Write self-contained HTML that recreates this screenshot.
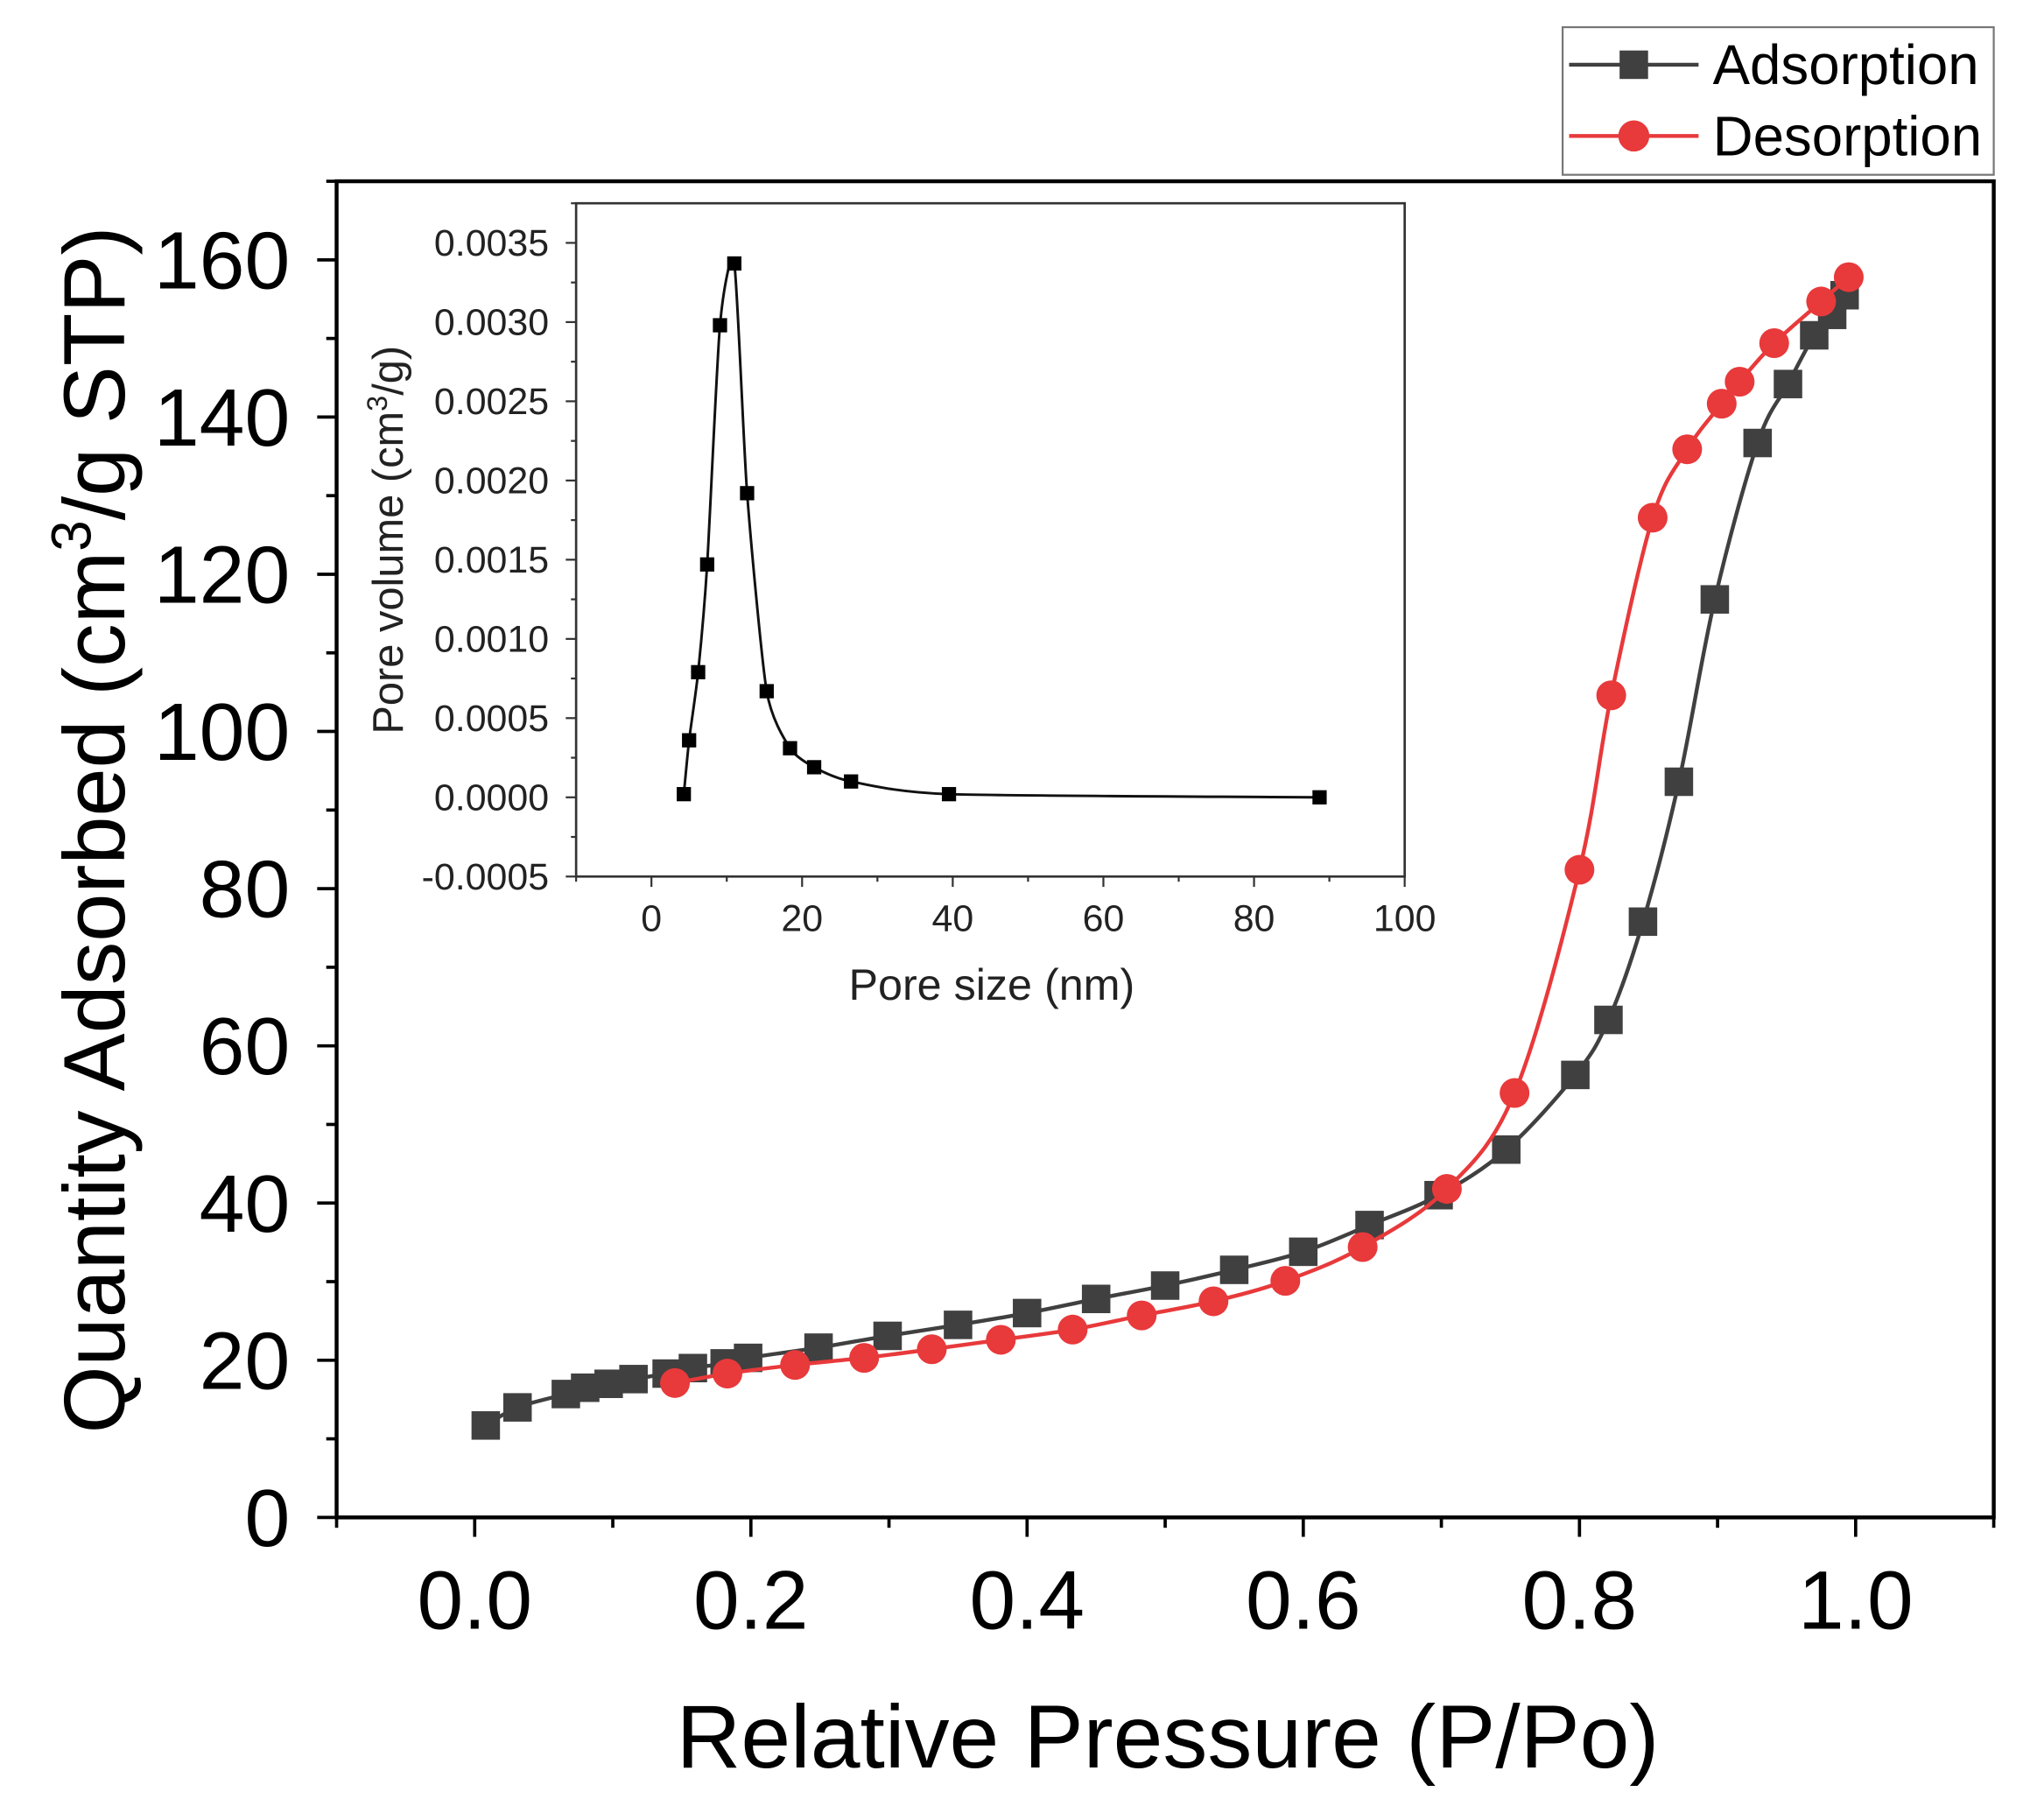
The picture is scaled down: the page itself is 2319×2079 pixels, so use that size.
<!DOCTYPE html>
<html><head><meta charset="utf-8"><style>
html,body{margin:0;padding:0;background:#fff;}
svg{display:block;font-family:"Liberation Sans",Arial,sans-serif;}
</style></head><body>
<svg id="chart" width="2319" height="2079" viewBox="0 0 1568 1405.7" preserveAspectRatio="none" xmlns="http://www.w3.org/2000/svg"></svg>
<script>
// Main chart data
const adsX = [0.008,0.031,0.066,0.08,0.097,0.115,0.139,0.158,0.181,0.198,0.249,0.299,0.35,0.4,0.45,0.5,0.55,0.6,0.648,0.698,0.747,0.797,0.821,0.846,0.872,0.898,0.929,0.951,0.97,0.983,0.992];
const adsY = [11.7,14,15.7,16.5,17,17.6,18.3,19,19.6,20.3,21.6,23.1,24.5,26,27.8,29.5,31.5,33.8,37.2,41,46.8,56.3,63.3,75.8,93.6,116.8,136.7,144.2,150.4,153,155.5];
const desX = [0.995,0.975,0.941,0.916,0.903,0.878,0.853,0.823,0.8,0.753,0.704,0.643,0.587,0.535,0.483,0.433,0.381,0.331,0.282,0.232,0.183,0.145];
const desY = [157.8,154.7,149.4,144.5,141.7,135.9,127.2,104.6,82.4,54,41.8,34.4,30.1,27.5,25.7,23.9,22.6,21.4,20.3,19.4,18.3,17.1];
const xTicks = ["0.0","0.2","0.4","0.6","0.8","1.0"];
const yTicks = ["0","20","40","60","80","100","120","140","160"];
// Inset data
const poreX = [4.3,5,6.2,7.4,9.1,11,12.7,15.3,18.4,21.6,26.5,39.5,88.7];
const poreY = [0.00002,0.00036,0.00079,0.00147,0.00298,0.00337,0.00192,0.00067,0.00031,0.00019,0.0001,0.00002,0.0];
const insetXTicks = ["0","20","40","60","80","100"];
const insetYTicks = ["-0.0005","0.0000","0.0005","0.0010","0.0015","0.0020","0.0025","0.0030","0.0035"];

const svg = document.getElementById('chart');
const NS = 'http://www.w3.org/2000/svg';
function mk(tag, attrs, parent){const e=document.createElementNS(NS,tag);for(const k in attrs)e.setAttribute(k,attrs[k]);(parent||svg).appendChild(e);return e;}
function smooth(pts,k){
  k=k||6;
  if(pts.length<2)return '';
  let d='M'+pts[0][0]+','+pts[0][1];
  for(let i=0;i<pts.length-1;i++){
    const p0=pts[i-1]||pts[i],p1=pts[i],p2=pts[i+1],p3=pts[i+2]||p2;
    const c1x=p1[0]+(p2[0]-p0[0])/k,c1y=p1[1]+(p2[1]-p0[1])/k;
    const c2x=p2[0]-(p3[0]-p1[0])/k,c2y=p2[1]-(p3[1]-p1[1])/k;
    d+=' C'+c1x+','+c1y+' '+c2x+','+c2y+' '+p2[0]+','+p2[1];
  }
  return d;
}
// Main axes
const L=260,R=1540,T=140,B=1172;
const xMin=-0.1,xMax=1.1,yMin=0,yMax=170;
const sx=v=>L+(v-xMin)/(xMax-xMin)*(R-L);
const sy=v=>B-(v-yMin)/(yMax-yMin)*(B-T);

let g=mk('g',{});


mk('rect',{x:L,y:T,width:R-L,height:B-T,fill:'none',stroke:'#000','stroke-width':3},g);

let gy=mk('g',{});


for(let v=0;v<=170;v+=10){
  const major=v%20===0;
  mk('line',{x1:L,x2:L-(major?15:8),y1:sy(v),y2:sy(v),stroke:'#000','stroke-width':2.5},gy);
}
yTicks.forEach(t=>{
  const e=mk('text',{x:L-36,y:sy(+t)+22,'font-size':63,'text-anchor':'end',fill:'#000'},gy);
  e.textContent=t;
  
  
});
let gx=mk('g',{});


for(let i=-1;i<=11;i++){
  const v=i/10,major=i>=0&&i%2===0;
  mk('line',{x1:sx(v),x2:sx(v),y1:B,y2:B+(major?15:8),stroke:'#000','stroke-width':2.5},gx);
}
xTicks.forEach(t=>{
  const e=mk('text',{x:sx(+t),y:1258,'font-size':64,'text-anchor':'middle',fill:'#000'},gx);
  e.textContent=t;
  
  
});
let xt=mk('text',{x:902,y:1365,'font-size':69,'text-anchor':'middle',fill:'#000'});
xt.textContent='Relative Pressure (P/Po)';


let yt=mk('text',{x:0,y:0,'font-size':67,'text-anchor':'middle',fill:'#000',transform:'translate(96,641) rotate(-90)'});
yt.innerHTML='Quantity Adsorbed (cm<tspan font-size="43" dy="-26">3</tspan><tspan dy="26">/g STP)</tspan>';



function series(xs,ys,color,shape,name){
  const sg=mk('g',{});
  
  
  const pts=xs.map((x,i)=>[sx(x),sy(ys[i])]);
  mk('path',{d:smooth(pts),fill:'none',stroke:color,'stroke-width':3},sg);
  pts.forEach(p=>{
    let m;
    if(shape==='square') m=mk('rect',{x:p[0]-11,y:p[1]-11,width:22,height:22,fill:color},sg);
    else m=mk('circle',{cx:p[0],cy:p[1],r:11.5,fill:color},sg);
    
    
  });
}
series(adsX,adsY,'#404040','square','adsorption-series');
series(desX,desY,'#e8393b','circle','desorption-series');

let lg=mk('g',{});


mk('rect',{x:1207,y:21,width:333,height:114,fill:'#fff',stroke:'#777','stroke-width':1.5},lg);
let le1=mk('g',{},lg);


mk('line',{x1:1212,x2:1312,y1:50,y2:50,stroke:'#404040','stroke-width':3},le1);
mk('rect',{x:1251,y:39,width:22,height:22,fill:'#404040'},le1);
let t1=mk('text',{x:1323,y:65,'font-size':43,fill:'#000'},le1);t1.textContent='Adsorption';
let le2=mk('g',{},lg);


mk('line',{x1:1212,x2:1312,y1:105,y2:105,stroke:'#e8393b','stroke-width':3},le2);
mk('circle',{cx:1262,cy:105,r:12,fill:'#e8393b'},le2);
let t2=mk('text',{x:1323,y:120,'font-size':43,fill:'#000'},le2);t2.textContent='Desorption';

// Inset
const iL=445,iR=1085,iT=157,iB=677;
const ixMin=-10,ixMax=100,iyMin=-0.0005,iyMax=0.00375;
const isx=v=>iL+(v-ixMin)/(ixMax-ixMin)*(iR-iL);
const isy=v=>iB-(v-iyMin)/(iyMax-iyMin)*(iB-iT);
let ig=mk('g',{});


mk('rect',{x:iL,y:iT,width:iR-iL,height:iB-iT,fill:'#fff',stroke:'#333','stroke-width':1.8},ig);
for(let i=-2;i<=15;i++){
  const v=i*0.00025,major=i%2===0;
  if(v>iyMax)break;
  mk('line',{x1:iL,x2:iL-(major?8:4),y1:isy(v),y2:isy(v),stroke:'#333','stroke-width':1.5},ig);
}
insetYTicks.forEach(t=>{
  const e=mk('text',{x:iL-21,y:isy(+t)+10,'font-size':29,'text-anchor':'end',fill:'#222'},ig);
  e.textContent=t;
  
  
});
for(let v=-10;v<=100;v+=10){
  const major=v%20===0;
  mk('line',{x1:isx(v),x2:isx(v),y1:iB,y2:iB+(major?8:4),stroke:'#333','stroke-width':1.5},ig);
}
insetXTicks.forEach(t=>{
  const e=mk('text',{x:isx(+t),y:719,'font-size':29,'text-anchor':'middle',fill:'#222'},ig);
  e.textContent=t;
  
  
});
let ixt=mk('text',{x:766,y:772,'font-size':34,'text-anchor':'middle',fill:'#222'},ig);
ixt.textContent='Pore size (nm)';


let iyt=mk('text',{x:0,y:0,'font-size':33,'text-anchor':'middle',fill:'#222',transform:'translate(311,417) rotate(-90)'},ig);
iyt.innerHTML='Pore volume (cm<tspan font-size="22" dy="-12">3</tspan><tspan dy="12">/g)</tspan>';


const ipts=poreX.map((x,i)=>[isx(x),isy(poreY[i])]);
mk('path',{d:smooth(ipts,9),fill:'none',stroke:'#111','stroke-width':2},ig);
ipts.forEach(p=>{
  const m=mk('rect',{x:p[0]-5.5,y:p[1]-5.5,width:11,height:11,fill:'#000'},ig);
  
  
});
</script>
</body></html>
